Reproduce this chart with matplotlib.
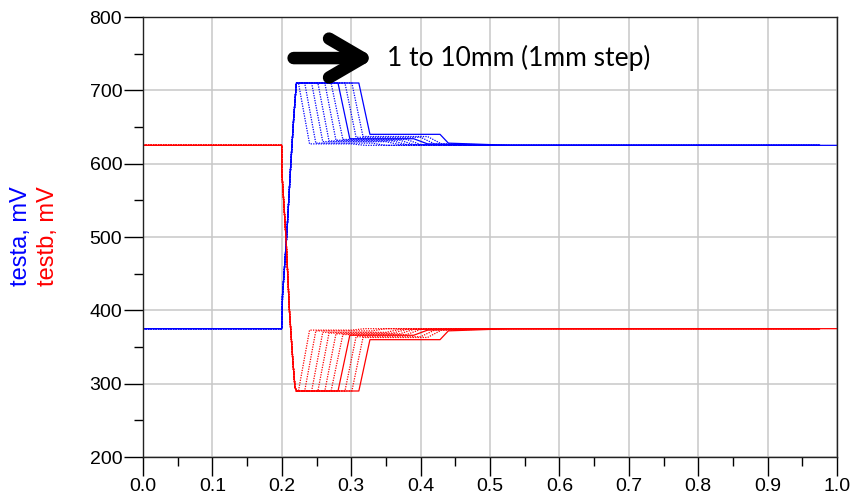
import numpy as np
import matplotlib.pyplot as plt
from matplotlib.ticker import MultipleLocator

plt.rcParams['font.family'] = ['Liberation Sans', 'DejaVu Sans']

# common edge before the plateau (time in ns-like units, values in mV)
x_edge = [0.0, 0.2, 0.201, 0.207, 0.213, 0.217, 0.221]
a_edge = [375, 375, 420, 500, 600, 660, 710]
xb_edge = [0.0, 0.2, 0.2, 0.206, 0.211, 0.216, 0.219, 0.221]
b_edge = [625, 625, 590, 500, 400, 330, 295, 290]

a_top = 710
b_bottom = 290

# one entry per swept length, 1mm .. 10mm
plateau_end = [0.224, 0.233, 0.243, 0.252, 0.262, 0.271, 0.281, 0.291, 0.301, 0.311]
fall_end = [0.240, 0.249, 0.259, 0.268, 0.278, 0.288, 0.298, 0.307, 0.317, 0.327]
a_shelf = [627, 628, 630, 631, 632, 633, 634, 636, 637, 640]
b_shelf = [373, 372, 370, 369, 368, 367, 366, 364, 363, 360]
shelf_end = [0.30, 0.33, 0.35, 0.36, 0.37, 0.38, 0.39, 0.40, 0.41, 0.428]
a_tail = [625, 625, 626, 626, 626, 626, 627, 627, 627, 628]
b_tail = [375, 375, 374, 374, 374, 374, 373, 373, 373, 372]
settle_end = [0.32, 0.35, 0.37, 0.38, 0.39, 0.40, 0.41, 0.42, 0.43, 0.44]
tail_end = [0.40, 0.44, 0.46, 0.48, 0.49, 0.50, 0.51, 0.52, 0.53, 0.53]
a_final = 625
b_final = 375
stop_time = [0.975, 0.975, 0.975, 0.975, 0.975, 0.975, 0.975, 0.975, 0.975, 1.0]
solid = [False, False, False, False, False, False, True, False, False, True]

fig = plt.figure(figsize=(8.52, 5.03), dpi=100)
ax = fig.add_axes([143 / 852, 1 - 457 / 503, 694 / 852, 440 / 503])

for i in range(len(plateau_end)):
    ls = '-' if solid[i] else (0, (1, 1))
    xa = x_edge + [plateau_end[i], fall_end[i], shelf_end[i], settle_end[i], tail_end[i], stop_time[i]]
    ya = a_edge + [a_top, a_shelf[i], a_shelf[i], a_tail[i], a_final, a_final]
    xb = xb_edge + [plateau_end[i], fall_end[i], shelf_end[i], settle_end[i], tail_end[i], stop_time[i]]
    yb = b_edge + [b_bottom, b_shelf[i], b_shelf[i], b_tail[i], b_final, b_final]
    ax.plot(xa, ya, color='#0000ff', lw=0.9, ls=ls)
    ax.plot(xb, yb, color='#ff0000', lw=0.9, ls=ls)

ax.set_xlim(0, 1)
ax.set_ylim(200, 800)
ax.xaxis.set_major_locator(MultipleLocator(0.1))
ax.xaxis.set_minor_locator(MultipleLocator(0.05))
ax.yaxis.set_major_locator(MultipleLocator(100))
ax.yaxis.set_minor_locator(MultipleLocator(50))
ax.set_xticks(np.arange(0, 1.01, 0.1))
ax.set_xticklabels([f'{v:.1f}' for v in np.arange(0, 1.01, 0.1)])
ax.tick_params(which='major', length=13.5, width=1, labelsize=14, pad=1.5)
ax.tick_params(which='minor', length=6.8, width=1)
ax.grid(True, which='major', color='#c8c8c8', lw=1.1)
for s in ax.spines.values():
    s.set_linewidth(1.0)
    s.set_color('#222222')

fig.text(21 / 852, 1 - 236 / 503, 'testa, mV', color='#0000ff', rotation=90,
         fontsize=17, ha='center', va='center')
fig.text(48 / 852, 1 - 236 / 503, 'testb, mV', color='#ff0000', rotation=90,
         fontsize=17, ha='center', va='center')

ax.annotate('', xy=(0.334, 744), xytext=(0.217, 744),
            arrowprops=dict(arrowstyle='->,head_length=2.4,head_width=1.4',
                            lw=9, color='black', capstyle='round',
                            joinstyle='round', shrinkA=0, shrinkB=0))
ax.text(0.352, 744, '1 to 10mm (1mm step)', fontsize=19, family='Lato',
        va='center', ha='left')

fig.savefig('out.png', dpi=100)
